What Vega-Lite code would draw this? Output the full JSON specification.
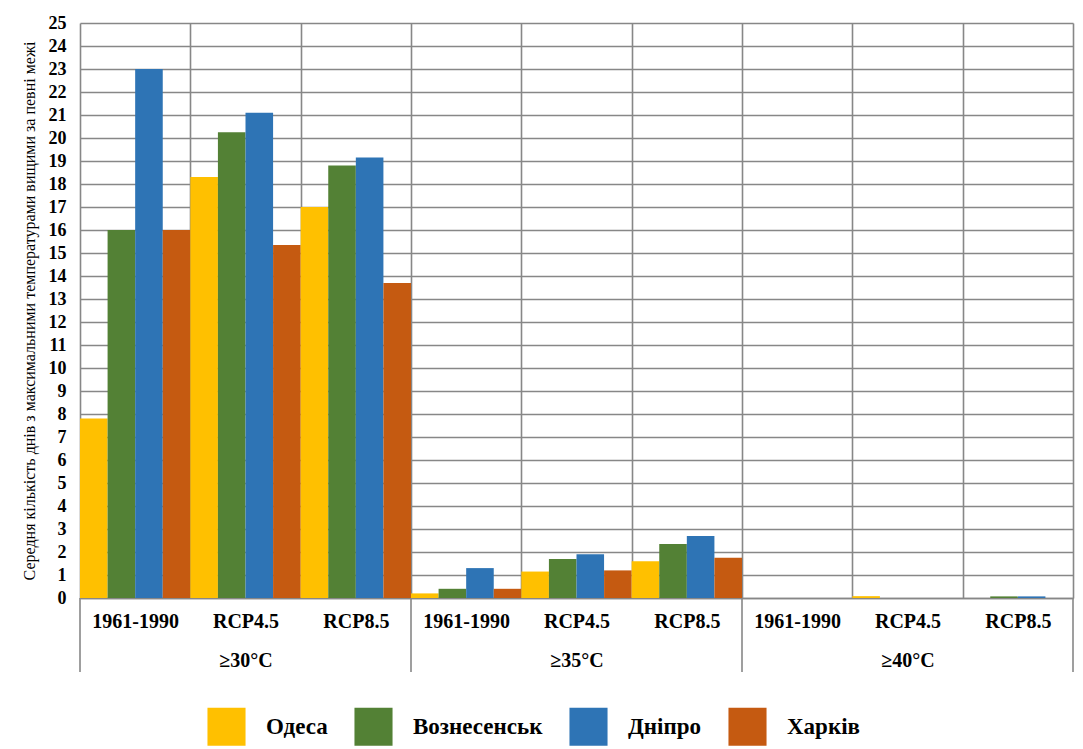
{
  "$schema": "https://vega.github.io/schema/vega-lite/v6.json",
  "width": 993,
  "height": 575,
  "autosize": {"type": "none"},
  "padding": {"left": 80, "top": 23, "right": 10, "bottom": 151},
  "background": "white",
  "config": {
    "view": {"stroke": null},
    "font": "Liberation Serif",
    "axis": {"labelFont": "Liberation Serif", "titleFont": "Liberation Serif", "labelOverlap": false},
    "legend": {"labelFont": "Liberation Serif"}
  },
  "data": {
    "values": [
      {"cat": "≥30°C|1961-1990", "band": "≥30°C", "period": "1961-1990", "city": "Одеса", "days": 7.8},
      {"cat": "≥30°C|1961-1990", "band": "≥30°C", "period": "1961-1990", "city": "Вознесенськ", "days": 16.0},
      {"cat": "≥30°C|1961-1990", "band": "≥30°C", "period": "1961-1990", "city": "Дніпро", "days": 23.0},
      {"cat": "≥30°C|1961-1990", "band": "≥30°C", "period": "1961-1990", "city": "Харків", "days": 16.0},
      {"cat": "≥30°C|RCP4.5", "band": "≥30°C", "period": "RCP4.5", "city": "Одеса", "days": 18.3},
      {"cat": "≥30°C|RCP4.5", "band": "≥30°C", "period": "RCP4.5", "city": "Вознесенськ", "days": 20.25},
      {"cat": "≥30°C|RCP4.5", "band": "≥30°C", "period": "RCP4.5", "city": "Дніпро", "days": 21.1},
      {"cat": "≥30°C|RCP4.5", "band": "≥30°C", "period": "RCP4.5", "city": "Харків", "days": 15.35},
      {"cat": "≥30°C|RCP8.5", "band": "≥30°C", "period": "RCP8.5", "city": "Одеса", "days": 17.0},
      {"cat": "≥30°C|RCP8.5", "band": "≥30°C", "period": "RCP8.5", "city": "Вознесенськ", "days": 18.8},
      {"cat": "≥30°C|RCP8.5", "band": "≥30°C", "period": "RCP8.5", "city": "Дніпро", "days": 19.15},
      {"cat": "≥30°C|RCP8.5", "band": "≥30°C", "period": "RCP8.5", "city": "Харків", "days": 13.7},
      {"cat": "≥35°C|1961-1990", "band": "≥35°C", "period": "1961-1990", "city": "Одеса", "days": 0.2},
      {"cat": "≥35°C|1961-1990", "band": "≥35°C", "period": "1961-1990", "city": "Вознесенськ", "days": 0.4},
      {"cat": "≥35°C|1961-1990", "band": "≥35°C", "period": "1961-1990", "city": "Дніпро", "days": 1.3},
      {"cat": "≥35°C|1961-1990", "band": "≥35°C", "period": "1961-1990", "city": "Харків", "days": 0.4},
      {"cat": "≥35°C|RCP4.5", "band": "≥35°C", "period": "RCP4.5", "city": "Одеса", "days": 1.15},
      {"cat": "≥35°C|RCP4.5", "band": "≥35°C", "period": "RCP4.5", "city": "Вознесенськ", "days": 1.7},
      {"cat": "≥35°C|RCP4.5", "band": "≥35°C", "period": "RCP4.5", "city": "Дніпро", "days": 1.9},
      {"cat": "≥35°C|RCP4.5", "band": "≥35°C", "period": "RCP4.5", "city": "Харків", "days": 1.2},
      {"cat": "≥35°C|RCP8.5", "band": "≥35°C", "period": "RCP8.5", "city": "Одеса", "days": 1.6},
      {"cat": "≥35°C|RCP8.5", "band": "≥35°C", "period": "RCP8.5", "city": "Вознесенськ", "days": 2.35},
      {"cat": "≥35°C|RCP8.5", "band": "≥35°C", "period": "RCP8.5", "city": "Дніпро", "days": 2.7},
      {"cat": "≥35°C|RCP8.5", "band": "≥35°C", "period": "RCP8.5", "city": "Харків", "days": 1.75},
      {"cat": "≥40°C|1961-1990", "band": "≥40°C", "period": "1961-1990", "city": "Одеса", "days": 0},
      {"cat": "≥40°C|1961-1990", "band": "≥40°C", "period": "1961-1990", "city": "Вознесенськ", "days": 0},
      {"cat": "≥40°C|1961-1990", "band": "≥40°C", "period": "1961-1990", "city": "Дніпро", "days": 0},
      {"cat": "≥40°C|1961-1990", "band": "≥40°C", "period": "1961-1990", "city": "Харків", "days": 0},
      {"cat": "≥40°C|RCP4.5", "band": "≥40°C", "period": "RCP4.5", "city": "Одеса", "days": 0.08},
      {"cat": "≥40°C|RCP4.5", "band": "≥40°C", "period": "RCP4.5", "city": "Вознесенськ", "days": 0},
      {"cat": "≥40°C|RCP4.5", "band": "≥40°C", "period": "RCP4.5", "city": "Дніпро", "days": 0},
      {"cat": "≥40°C|RCP4.5", "band": "≥40°C", "period": "RCP4.5", "city": "Харків", "days": 0},
      {"cat": "≥40°C|RCP8.5", "band": "≥40°C", "period": "RCP8.5", "city": "Одеса", "days": 0},
      {"cat": "≥40°C|RCP8.5", "band": "≥40°C", "period": "RCP8.5", "city": "Вознесенськ", "days": 0.07},
      {"cat": "≥40°C|RCP8.5", "band": "≥40°C", "period": "RCP8.5", "city": "Дніпро", "days": 0.07},
      {"cat": "≥40°C|RCP8.5", "band": "≥40°C", "period": "RCP8.5", "city": "Харків", "days": 0}
    ]
  },
  "encoding": {
    "x": {
      "field": "cat",
      "type": "nominal",
      "sort": null,
      "scale": {"paddingInner": 0, "paddingOuter": 0},
      "axis": {
        "title": null,
        "labelAngle": 0,
        "labelExpr": "split(datum.value, '|')[1] == 'RCP4.5' ? [split(datum.value, '|')[1], split(datum.value, '|')[0]] : split(datum.value, '|')[1]",
        "labelFont": "Liberation Serif",
        "labelFontWeight": "bold",
        "labelFontSize": 20,
        "labelColor": "#000000",
        "labelLineHeight": 39,
        "labelPadding": 13,
        "labelBaseline": "top",
        "labelOverlap": false,
        "ticks": false,
        "tickBand": "extent",
        "grid": true,
        "gridColor": "#878787",
        "gridWidth": 1.6,
        "domain": true,
        "domainColor": "#878787",
        "domainWidth": 1.6
      }
    },
    "y": {
      "field": "days",
      "type": "quantitative",
      "scale": {"domain": [0, 25], "nice": false},
      "axis": {
        "title": "Середня кількість  днів з максимальними температурами вищими за певні межі",
        "titleFont": "Liberation Serif",
        "titleFontWeight": "normal",
        "titleFontSize": 16,
        "titleColor": "#000000",
        "titlePadding": 11,
        "values": [0, 1, 2, 3, 4, 5, 6, 7, 8, 9, 10, 11, 12, 13, 14, 15, 16, 17, 18, 19, 20, 21, 22, 23, 24, 25],
        "labelOverlap": false,
        "labelFont": "Liberation Serif",
        "labelFontWeight": "bold",
        "labelFontSize": 18,
        "labelColor": "#000000",
        "labelPadding": 14,
        "ticks": false,
        "domain": false,
        "grid": true,
        "gridColor": "#878787",
        "gridWidth": 1.6
      }
    }
  },
  "layer": [
    {
      "mark": {"type": "bar", "clip": false},
      "encoding": {
        "xOffset": {
          "field": "city",
          "type": "nominal",
          "sort": ["Одеса", "Вознесенськ", "Дніпро", "Харків"],
          "scale": {"paddingInner": 0, "paddingOuter": 0}
        },
        "color": {
          "field": "city",
          "type": "nominal",
          "sort": ["Одеса", "Вознесенськ", "Дніпро", "Харків"],
          "scale": {
            "domain": ["Одеса", "Вознесенськ", "Дніпро", "Харків"],
            "range": ["#FFC000", "#538135", "#2E74B5", "#C55A11"]
          },
          "legend": {
            "title": null,
            "orient": "none",
            "direction": "horizontal",
            "legendX": 127,
            "legendY": 684,
            "symbolType": "square",
            "symbolSize": 1450,
            "symbolStrokeWidth": 0,
            "labelFont": "Liberation Serif",
            "labelFontWeight": "bold",
            "labelFontSize": 23,
            "labelColor": "#000000",
            "labelOffset": 20,
            "columnPadding": 26,
            "labelLimit": 300
          }
        }
      }
    },
    {
      "transform": [{"filter": "datum.period == '1961-1990' && datum.city == 'Одеса'"}],
      "mark": {"type": "rule", "clip": false, "color": "#878787", "strokeWidth": 1.6},
      "encoding": {
        "x": {"field": "cat", "type": "nominal", "sort": null, "bandPosition": 0},
        "y": {"datum": 0},
        "y2": {"datum": -3.22}
      }
    },
    {
      "transform": [{"filter": "datum.cat == '≥40°C|RCP8.5' && datum.city == 'Одеса'"}],
      "mark": {"type": "rule", "clip": false, "color": "#878787", "strokeWidth": 1.6},
      "encoding": {
        "x": {"field": "cat", "type": "nominal", "sort": null, "bandPosition": 1},
        "y": {"datum": 0},
        "y2": {"datum": -3.22}
      }
    }
  ]
}
